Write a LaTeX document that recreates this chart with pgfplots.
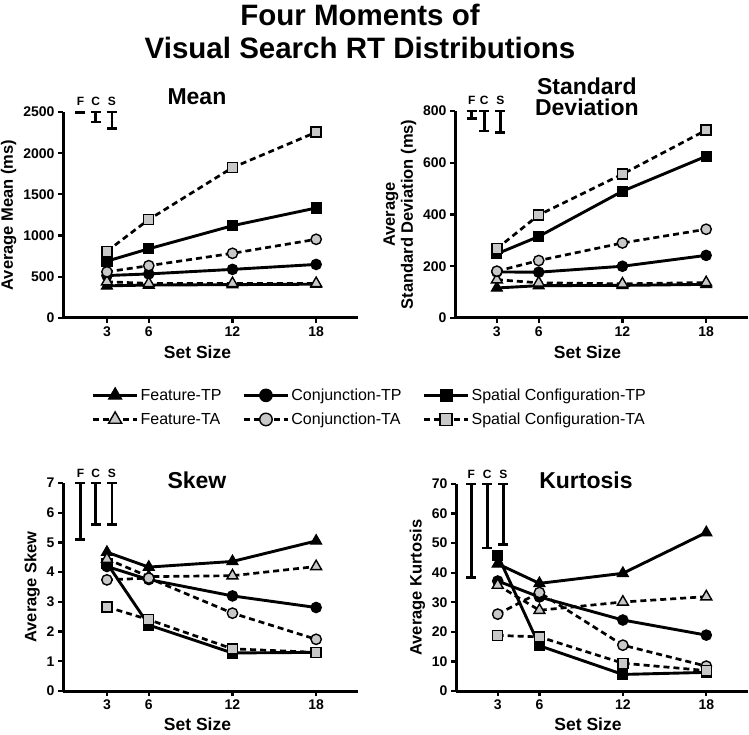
\documentclass[border=0pt]{standalone}
\usepackage{fontspec}
\setmainfont{Liberation Sans}
\usepackage{pgfplots}
\pgfplotsset{compat=1.18}
\definecolor{MarkGray}{RGB}{200,200,200}

\tikzset{
  fcslab/.style={anchor=base, font=\bfseries\fontsize{12}{12}\selectfont, yshift=6pt},
  ptitle/.style={font=\bfseries\fontsize{23}{21}\selectfont, align=center},
}
\pgfplotsset{
  panel/.style={
    scale only axis,
    anchor=south west,
    axis lines=left,
    axis line style={-, line width=3pt},
    tick align=outside,
    major tick length=5pt,
    tick style={line width=2.2pt, black},
    xtick={3,6,12,18},
    xmax=21,
    clip=false,
    unbounded coords=jump,
    /pgf/number format/assume math mode=true,
    /pgf/number format/1000 sep={},
    tick label style={font=\bfseries\fontsize{14}{14}\selectfont},
    label style={font=\bfseries\fontsize{16.5}{18}\selectfont},
    xlabel style={font=\bfseries\fontsize{17.5}{18}\selectfont, yshift=-2pt},
    xlabel={Set Size},
  },
  tp/.style={black, solid, line width=2.9pt, mark options={solid, fill=black, draw=black, line width=1.2pt}},
  ta/.style={black, dash pattern=on 6pt off 4pt, line width=2.7pt, mark options={solid, fill=MarkGray, draw=black, line width=1.4pt}},
  feat/.style={mark=triangle*, mark size=6.3pt},
  conj/.style={mark=*, mark size=5.2pt},
  spat/.style={mark=square*, mark size=5pt},
  fcs/.style={black, solid, line width=2.6pt, no marks, forget plot},
}

\begin{document}
\begin{tikzpicture}[x=1pt, y=1pt]
\path[use as bounding box] (0,0) rectangle (749,734);

\node[font=\bfseries\fontsize{29.5}{33}\selectfont, align=center] at (360,702.5)
  {Four Moments of\\Visual Search RT Distributions};

% Mean
\begin{axis}[panel, at={(63pt,416pt)}, width=295pt, height=206pt,
    xmin=-0.15, ymin=0, ymax=2500, ytick={0,500,1000,1500,2000,2500},
    ylabel={Average Mean (ms)},
    xlabel style={xshift=-13pt},
    legend columns=3,
    legend style={draw=none, fill=none, at={(axis description cs:1.04,-0.434)}, anchor=center,
      font=\fontsize{16}{18}\selectfont, row sep=7pt,
      /tikz/every even column/.append style={column sep=19pt}},
    legend cell align=left,
    legend image code/.code={\draw[mark repeat=2, mark phase=2, every mark/.append style={scale=1.2}] plot coordinates {(0pt,0pt) (22pt,0pt) (44pt,0pt)};},
  ]
  \addplot[tp, feat] coordinates {(3,390) (6,400) (12,405) (18,410)};
  \addlegendentry{Feature-TP}
  \addplot[tp, conj] coordinates {(3,515) (6,535) (12,590) (18,650)};
  \addlegendentry{Conjunction-TP}
  \addplot[tp, spat] coordinates {(3,690) (6,840) (12,1120) (18,1335)};
  \addlegendentry{Spatial Configuration-TP}
  \addplot[ta, feat] coordinates {(3,440) (6,420) (12,420) (18,420)};
  \addlegendentry{Feature-TA}
  \addplot[ta, conj] coordinates {(3,560) (6,635) (12,785) (18,955)};
  \addlegendentry{Conjunction-TA}
  \addplot[ta, spat] coordinates {(3,810) (6,1195) (12,1825) (18,2255)};
  \addlegendentry{Spatial Configuration-TA}
  % F, C, S bars
  \addplot[fcs] coordinates {
    (0.74,2500) (1.46,2500) (0,nan) (0.74,2490) (1.46,2490) (0,nan)
    (1.84,2500) (2.56,2500) (0,nan) (2.2,2500) (2.2,2380) (0,nan) (1.84,2380) (2.56,2380) (0,nan)
    (2.99,2500) (3.71,2500) (0,nan) (3.35,2500) (3.35,2300) (0,nan) (2.99,2300) (3.71,2300)};
  \node[fcslab] at (axis cs:1.1,2500) {F};
  \node[fcslab] at (axis cs:2.2,2500) {C};
  \node[fcslab] at (axis cs:3.35,2500) {S};
  \node[ptitle] at (axis description cs:0.454,1) [yshift=15pt] {Mean};
\end{axis}

% Standard deviation
\begin{axis}[panel, at={(455pt,416pt)}, width=293pt, height=207pt,
    xmin=0, ymin=0, ymax=800, ytick={0,200,400,600,800},
    ylabel={Average\\Standard Deviation (ms)}, ylabel style={align=center},
    xlabel style={xshift=-14pt},
  ]
  \addplot[tp, feat] coordinates {(3,116) (6,125) (12,126) (18,130)};
  \addplot[tp, conj] coordinates {(3,178) (6,177) (12,200) (18,242)};
  \addplot[tp, spat] coordinates {(3,248) (6,315) (12,490) (18,625)};
  \addplot[ta, feat] coordinates {(3,148) (6,136) (12,132) (18,137)};
  \addplot[ta, conj] coordinates {(3,181) (6,222) (12,290) (18,343)};
  \addplot[ta, spat] coordinates {(3,268) (6,398) (12,556) (18,726)};
  \addplot[fcs] coordinates {
    (0.84,800) (1.56,800) (0,nan) (1.2,800) (1.2,770) (0,nan) (0.84,770) (1.56,770) (0,nan)
    (1.74,800) (2.46,800) (0,nan) (2.1,800) (2.1,722) (0,nan) (1.74,722) (2.46,722) (0,nan)
    (2.89,800) (3.61,800) (0,nan) (3.25,800) (3.25,716) (0,nan) (2.89,716) (3.61,716)};
  \node[fcslab] at (axis cs:1.2,800) {F};
  \node[fcslab] at (axis cs:2.1,800) {C};
  \node[fcslab] at (axis cs:3.25,800) {S};
  \node[ptitle] at (axis description cs:0.45,1) [yshift=14.5pt] {Standard\\Deviation};
\end{axis}

% Skew
\begin{axis}[panel, at={(63pt,43pt)}, width=295pt, height=208pt,
    xmin=-0.15, ymin=0, ymax=7, ytick={0,1,...,7},
    ylabel={Average Skew},
    xlabel style={xshift=-13pt, yshift=1pt},
  ]
  \addplot[tp, feat] coordinates {(3,4.67) (6,4.17) (12,4.36) (18,5.05)};
  \addplot[tp, conj] coordinates {(3,4.19) (6,3.75) (12,3.2) (18,2.81)};
  \addplot[tp, spat] coordinates {(3,4.3) (6,2.22) (12,1.28) (18,1.3)};
  \addplot[ta, feat] coordinates {(3,4.44) (6,3.85) (12,3.88) (18,4.19)};
  \addplot[ta, conj] coordinates {(3,3.74) (6,3.8) (12,2.62) (18,1.74)};
  \addplot[ta, spat] coordinates {(3,2.83) (6,2.4) (12,1.42) (18,1.3)};
  \addplot[fcs] coordinates {
    (0.74,7) (1.46,7) (0,nan) (1.1,7) (1.1,5.1) (0,nan) (0.74,5.1) (1.46,5.1) (0,nan)
    (1.84,7) (2.56,7) (0,nan) (2.2,7) (2.2,5.6) (0,nan) (1.84,5.6) (2.56,5.6) (0,nan)
    (2.99,7) (3.71,7) (0,nan) (3.35,7) (3.35,5.6) (0,nan) (2.99,5.6) (3.71,5.6)};
  \node[fcslab] at (axis cs:1.1,7) {F};
  \node[fcslab] at (axis cs:2.2,7) {C};
  \node[fcslab] at (axis cs:3.35,7) {S};
  \node[ptitle] at (axis description cs:0.454,1) [yshift=3pt] {Skew};
\end{axis}

% Kurtosis
\begin{axis}[panel, at={(456pt,43pt)}, width=292pt, height=207pt,
    xmin=0, ymin=0, ymax=70, ytick={0,10,...,70},
    ylabel={Average Kurtosis},
    xlabel style={xshift=-14pt, yshift=1pt},
  ]
  \addplot[tp, feat] coordinates {(3,43) (6,36.4) (12,39.8) (18,53.6)};
  \addplot[tp, conj] coordinates {(3,37.2) (6,31.8) (12,24) (18,18.9)};
  \addplot[tp, spat] coordinates {(3,45.9) (6,15.3) (12,5.6) (18,6.3)};
  \addplot[ta, feat] coordinates {(3,35.8) (6,27.3) (12,30.1) (18,31.9)};
  \addplot[ta, conj] coordinates {(3,26) (6,33.3) (12,15.5) (18,8.4)};
  \addplot[ta, spat] coordinates {(3,18.8) (6,18.3) (12,9.4) (18,6.9)};
  \addplot[fcs] coordinates {
    (0.74,70) (1.46,70) (0,nan) (1.1,70) (1.1,38.3) (0,nan) (0.74,38.3) (1.46,38.3) (0,nan)
    (1.89,70) (2.61,70) (0,nan) (2.25,70) (2.25,48.3) (0,nan) (1.89,48.3) (2.61,48.3) (0,nan)
    (3.04,70) (3.76,70) (0,nan) (3.4,70) (3.4,49.5) (0,nan) (3.04,49.5) (3.76,49.5)};
  \node[fcslab] at (axis cs:1.1,70) {F};
  \node[fcslab] at (axis cs:2.25,70) {C};
  \node[fcslab] at (axis cs:3.4,70) {S};
  \node[ptitle] at (axis description cs:0.445,1) [yshift=4pt] {Kurtosis};
\end{axis}
\end{tikzpicture}
\end{document}
